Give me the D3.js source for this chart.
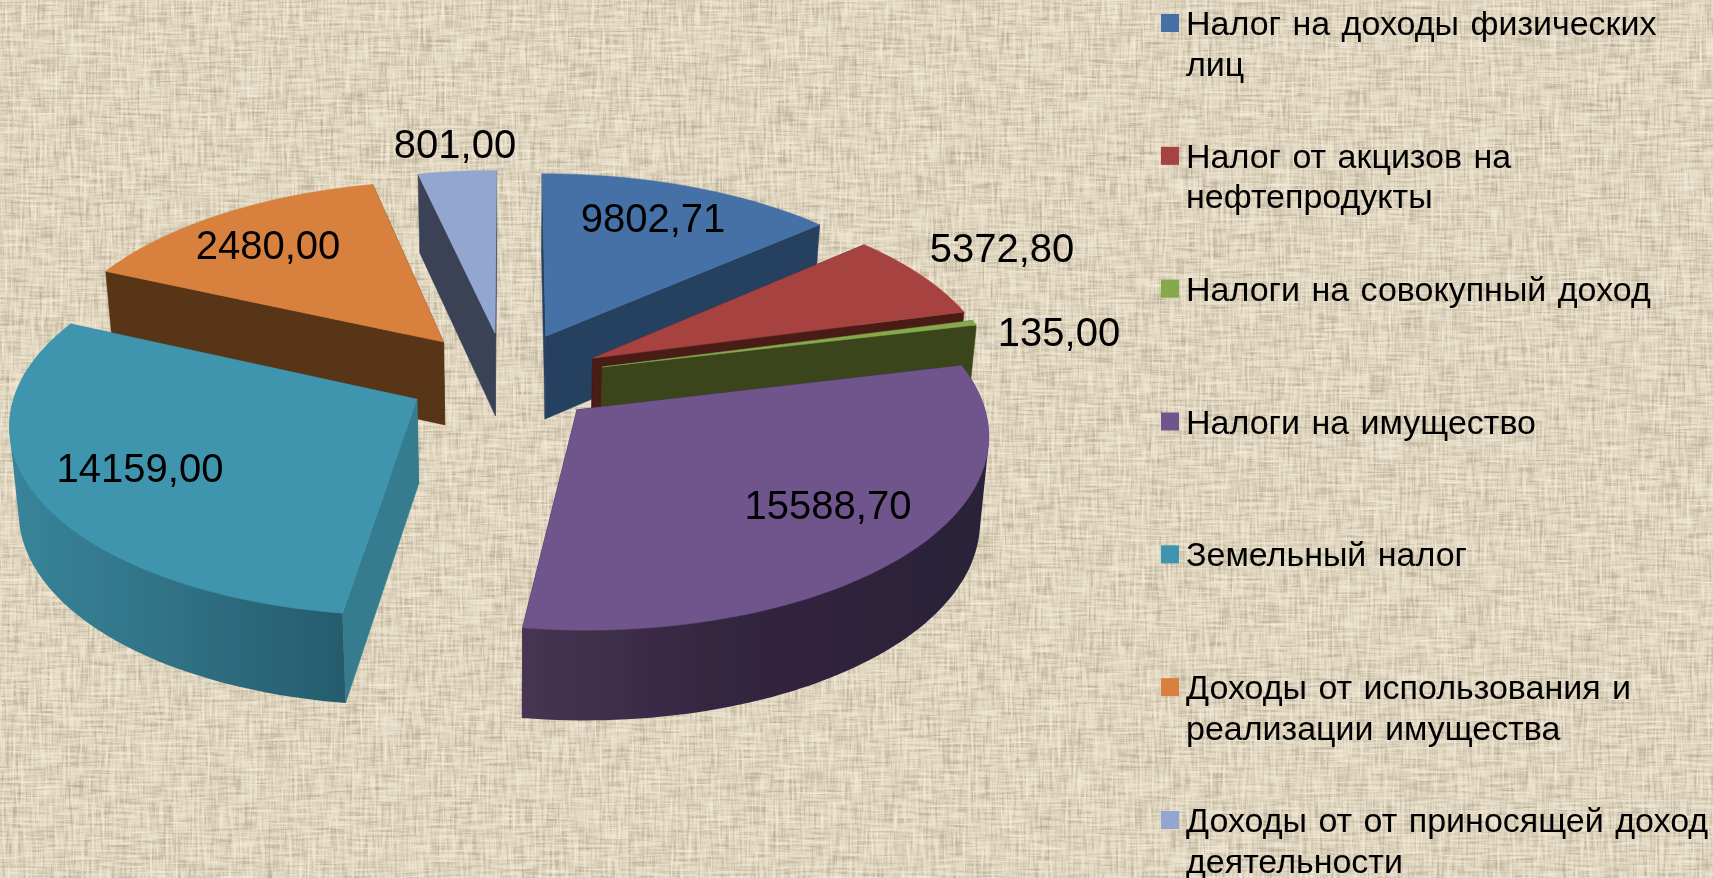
<!DOCTYPE html>
<html>
<head>
<meta charset="utf-8">
<script src="https://cdn.jsdelivr.net/npm/d3@7"></script>
<style>
  html, body { margin: 0; padding: 0; background: #e4dac4; overflow: hidden; }
  svg { display: block; }
  text { font-family: "Liberation Sans", Arial, sans-serif; fill: #000; }
</style>
</head>
<body>
<svg width="1713" height="878"></svg>
<script>
const categories = [
  ["Налог на доходы физических", "лиц"],
  ["Налог от акцизов на", "нефтепродукты"],
  ["Налоги на совокупный доход"],
  ["Налоги на имущество"],
  ["Земельный налог"],
  ["Доходы от использования и", "реализации имущества"],
  ["Доходы от от приносящей доход", "деятельности"]
];
// printed on the labels
const labelValues = [9802.71, 5372.80, 135.00, 15588.70, 14159.00, 2480.00, 801.00];
// the drawn wedges do not follow the labels, so these are read off the picture (% of the circle)
const sliceShares = [13.47, 7.36, 0.42, 30.94, 29.58, 14.71, 3.52];

const topColors  = ["#4571a7", "#a64341", "#86a94c", "#70558c", "#4095ae", "#d8803c", "#92a6d0"];
const wallColors = ["#263f60", "#4a1a18", "#3a451d", "#2d223b", "#357b8e", "#593418", "#3b4356"];

// explosion of each slice on the pie plane
const explodeDist  = [113, 102, 101, 84, 97, 116, 115];
const explodeAngle = [19, 55.4, 67.4, 128.2, 251.9, 324, 352.3];
// the wedges are not quite the same size after the perspective
const sliceRadius = [409, 405, 402, 402, 400, 402, 411];
// centre of each value label
const labelX = [653, 1002, 1059, 828, 140, 268, 455];
const labelY = [218, 248, 332, 505, 468, 245, 144];

const svg = d3.select("svg");
const width = +svg.attr("width");
const height = +svg.attr("height");

const cx = 510, cy = 385;
const depth = 84;
const squash = 0.47, camera = 3500;

const rad = d => d * Math.PI / 180;

// plane point -> screen, z goes down from the top face (the underside is further away, so a bit smaller)
function project(x, y, z = 0) {
  const k = camera / (camera - y);
  return [cx + x * k * (1 - z * 0.00022), cy + y * squash * k + z * (k + 1) / 2];
}

const defs = svg.append("defs");

// woven background
function streaks(id, freq, seed, color, gain, offset) {
  const f = defs.append("filter").attr("id", id)
    .attr("x", 0).attr("y", 0).attr("width", "100%").attr("height", "100%")
    .attr("color-interpolation-filters", "sRGB");
  f.append("feTurbulence")
    .attr("type", "fractalNoise")
    .attr("baseFrequency", freq)
    .attr("numOctaves", 2)
    .attr("seed", seed);
  const c = d3.color(color);
  f.append("feColorMatrix").attr("type", "matrix").attr("values", [
    0, 0, 0, 0, c.r / 255,
    0, 0, 0, 0, c.g / 255,
    0, 0, 0, 0, c.b / 255,
    gain, 0, 0, 0, offset
  ].join(" "));
  f.append("feGaussianBlur").attr("stdDeviation", 0.6);
}
streaks("darkH", "0.035 0.42", 3, "#b3a68d", 1.9, -0.82);
streaks("darkV", "0.42 0.035", 7, "#b3a68d", 1.9, -0.82);
streaks("lightH", "0.03 0.38", 11, "#f4ecd9", 2.0, -0.88);
streaks("lightV", "0.38 0.03", 17, "#f4ecd9", 2.0, -0.88);

const bg = svg.append("g");
bg.append("rect").attr("width", width).attr("height", height).attr("fill", "#e3d9c3");
["darkH", "darkV", "lightH", "lightV"].forEach(id => {
  bg.append("rect").attr("width", width).attr("height", height)
    .attr("fill", "#fff")
    .attr("filter", `url(#${id})`);
});

// the reference is a slightly soft scan
defs.append("filter").attr("id", "soft")
  .attr("x", "-2%").attr("y", "-2%").attr("width", "104%").attr("height", "104%")
  .append("feGaussianBlur").attr("stdDeviation", 0.5);

// arc wall shading, left to right
const wallGradients = {
  3: [[0, "#463553"], [0.45, "#33253f"], [1, "#2a2138"]],
  4: [[0, "#38849a"], [0.45, "#317386"], [1, "#265c6d"]]
};
Object.entries(wallGradients).forEach(([i, stops]) => {
  const g = defs.append("linearGradient").attr("id", "wall" + i);
  stops.forEach(s => g.append("stop").attr("offset", s[0]).attr("stop-color", s[1]));
});

const pie = d3.pie().sort(null).value(d => d)(sliceShares);
const line = d3.line();

const slices = pie.map((p, i) => {
  const ox = explodeDist[i] * Math.sin(rad(explodeAngle[i]));
  const oy = -explodeDist[i] * Math.cos(rad(explodeAngle[i]));
  return { i, start: p.startAngle, end: p.endAngle, ox, oy, r: sliceRadius[i] };
});

const rim = (d, a) => [d.ox + d.r * Math.sin(a), d.oy - d.r * Math.cos(a)];

function arcAngles(a0, a1) {
  const n = Math.max(2, Math.ceil((a1 - a0) / rad(1.5)));
  return d3.range(n + 1).map(d3.scaleLinear().domain([0, n]).range([a0, a1]));
}

// back to front, reads right against the picture
const drawOrder = [6, 0, 5, 1, 2, 4, 3];

const root = svg.append("g").attr("filter", "url(#soft)");
const g = root.append("g");
drawOrder.forEach(i => {
  const d = slices[i];
  const apex = [d.ox, d.oy];
  const slice = g.append("g").attr("class", "slice");

  // radial walls
  [d.start, d.end].forEach(a => {
    const r = rim(d, a);
    slice.append("path")
      .attr("d", line([project(...apex), project(...r), project(...r, depth), project(...apex, depth)]) + "Z")
      .attr("fill", wallColors[i])
      .attr("stroke", wallColors[i]).attr("stroke-width", 0.5);
  });

  // outer wall, the part turned to the viewer. hull so the sides join the top rim to the smaller
  // underside, whatever it adds inside is under the top face
  const a0 = Math.max(d.start, rad(78)), a1 = Math.min(d.end, rad(285));
  if (a1 > a0) {
    const pts = arcAngles(a0, a1).map(a => rim(d, a));
    const ring = pts.map(p => project(...p)).concat(pts.map(p => project(...p, depth)));
    slice.append("path")
      .attr("d", line(d3.polygonHull(ring)) + "Z")
      .attr("fill", wallGradients[i] ? `url(#wall${i})` : wallColors[i]);
  }

  // top face
  const top = [project(...apex)].concat(arcAngles(d.start, d.end).map(a => project(...rim(d, a))));
  slice.append("path")
    .attr("d", line(top) + "Z")
    .attr("fill", topColors[i])
    .attr("stroke", topColors[i]).attr("stroke-width", 0.5);
});

// leader line of the small slice
const leader = slices[2];
const lp = project(...rim(leader, leader.end));
root.append("path")
  .attr("d", line([lp, [lp[0] + 8, lp[1] + 20], [lp[0] + 18, lp[1] + 20]]))
  .attr("fill", "none").attr("stroke", "#c6d0d8").attr("stroke-width", 1);

// value labels
const comma = v => d3.format(".2f")(v).replace(".", ",");
root.append("g").selectAll("text")
  .data(labelValues)
  .join("text")
  .attr("x", (d, i) => labelX[i])
  .attr("y", (d, i) => labelY[i])
  .attr("dy", "0.36em")
  .attr("text-anchor", "middle")
  .attr("font-size", 40)
  .text(comma);

// legend
const rowY = d3.scaleLinear().domain([0, categories.length - 1]).range([23, 820]);
const legend = root.append("g").selectAll("g")
  .data(categories)
  .join("g")
  .attr("transform", (d, i) => `translate(0,${rowY(i)})`);

legend.append("rect")
  .attr("x", 1161).attr("y", -9)
  .attr("width", 18).attr("height", 18)
  .attr("fill", (d, i) => topColors[i]);

legend.selectAll("text")
  .data(d => d)
  .join("text")
  .attr("x", 1186)
  .attr("y", (d, i) => 12 + i * 40.5)
  .attr("font-size", 34)
  .attr("word-spacing", 2)
  .text(d => d);
</script>
</body>
</html>
